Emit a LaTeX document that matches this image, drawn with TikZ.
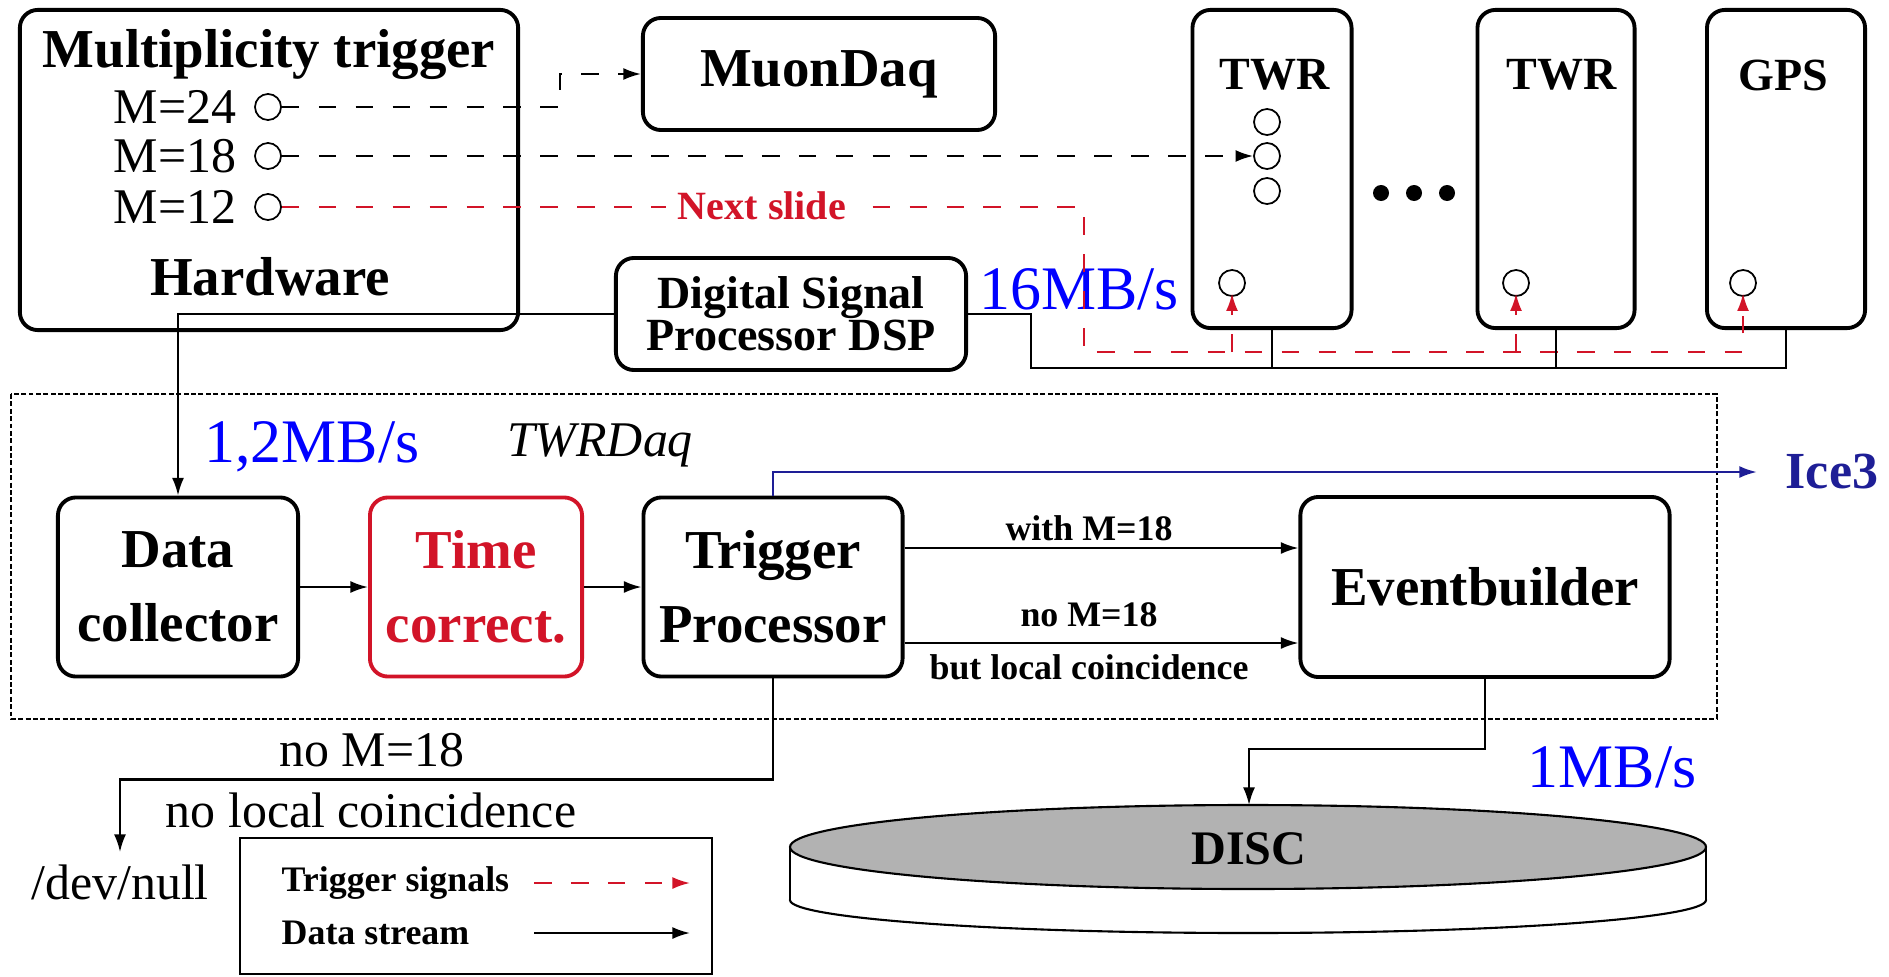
\documentclass[tikz,border=0pt]{standalone}
\usepackage{fontspec}
\setmainfont{Liberation Serif}
\usetikzlibrary{arrows.meta,calc}

\definecolor{trigred}{RGB}{210,20,40}
\definecolor{rateblue}{RGB}{0,0,255}
\definecolor{iceblue}{RGB}{30,30,150}
\newcommand{\setsize}[2]{\fontsize{#1pt}{#2pt}\selectfont}

\begin{document}
\begin{tikzpicture}[x=0.01cm,y=-0.01cm,
  box/.style={draw,line width=1.1pt,rounded corners=0.18cm,align=center,
    font=\bfseries\setsize{15.6}{21}},
  port/.style={draw,circle,minimum size=0.26cm,inner sep=0pt,line width=0.5pt},
  datalink/.style={line width=0.6pt,-{Latex[length=5pt,width=3.4pt]}},
  buslink/.style={line width=0.6pt},
  trig/.style={line width=0.6pt,dash pattern=on 5pt off 5.5pt,-{Latex[length=5pt,width=3.4pt]}},
  trigr/.style={trig,draw=trigred},
  icelink/.style={line width=0.7pt,draw=iceblue,-{Latex[length=5pt,width=3.4pt]}},
  rate/.style={text=rateblue,font=\setsize{17.6}{20}},
  plain/.style={font=\setsize{14.2}{16}},
  small/.style={font=\bfseries\setsize{10.2}{12}}]
\useasboundingbox (0,0) rectangle (1889,976);

% Hardware trigger box
\node[box,minimum width=4.98cm,minimum height=3.20cm] (hw) at (269,170) {};
\node[font=\bfseries\setsize{15.6}{18}] (hwtitle) at (269,55) {Multiplicity trigger};
\node[font=\bfseries\setsize{15.6}{18}] (hwname) at (270,277) {Hardware};
% Multiplicity outputs
\node[plain,anchor=east,inner sep=0pt] (l24) at (237,107) {M=24};
\node[plain,anchor=east,inner sep=0pt] (l18) at (237,156) {M=18};
\node[plain,anchor=east,inner sep=0pt] (l12) at (237,207) {M=12};
\node[port] (m24) at (268,107) {};
\node[port] (m18) at (268,156) {};
\node[port] (m12) at (268,207) {};

% MuonDaq
\node[box,minimum width=3.52cm,minimum height=1.12cm] (muon) at (819,74) {MuonDaq};

% DSP
\node[box,font=\bfseries\setsize{13.1}{12},minimum width=3.50cm,minimum height=1.12cm] (dsp) at (791,314) {Digital Signal\\Processor DSP};

% TWR and GPS boards
\node[box,minimum width=1.59cm,minimum height=3.18cm] (tw1) at (1272,169) {};
\node[box,minimum width=1.57cm,minimum height=3.18cm] (tw2) at (1556,169) {};
\node[box,minimum width=1.58cm,minimum height=3.18cm] (gps) at (1786,169) {};
\node[font=\bfseries\setsize{13.1}{15}] (tw1t) at (1275,75) {TWR};
\node[font=\bfseries\setsize{13.1}{15}] (tw2t) at (1562,75) {TWR};
\node[font=\bfseries\setsize{13.1}{15}] (gpst) at (1783,75) {GPS};
% Ports on the boards
\node[port] (tw1a) at (1267,122) {};
\node[port] (tw1b) at (1267,156) {};
\node[port] (tw1c) at (1267,191) {};
\node[port] (tw1p) at (1232,283) {};
\node[port] (tw2p) at (1516,283) {};
\node[port] (gpsp) at (1743,283) {};
% dots between boards
\fill (1381,193) circle (8) (1414,193) circle (8) (1447,193) circle (8);

% TWRDaq frame
\draw[dash pattern=on 1.4pt off 0.7pt,line width=0.5pt] (11,394) rectangle (1717,719);
\node[font=\itshape\setsize{14.2}{16}] (daqname) at (600,445) {TWRDaq};

% Processing chain
\node[box,minimum width=2.40cm,minimum height=1.79cm] (dc) at (178,587) {Data\\collector};
\node[box,draw=trigred,text=trigred,minimum width=2.12cm,minimum height=1.79cm] (tc) at (476,587) {Time\\correct.};
\node[box,minimum width=2.59cm,minimum height=1.79cm] (tp) at (773,587) {Trigger\\Processor};
\node[box,minimum width=3.69cm,minimum height=1.80cm] (eb) at (1485,587) {Eventbuilder};
\node[font=\bfseries\setsize{14.8}{16},text=iceblue,anchor=west,inner sep=0pt] (ice) at (1785,472) {Ice3};

% Rates
\node[rate] (r16) at (1079,289) {16MB/s};
\node[rate] (r12) at (312,447) {1,2MB/s};
\node[rate] (r1) at (1612,767) {1MB/s};

% Trigger signals
\draw[trig] (m24.east) -- ++(278,0) |- (muon.west);
\draw[trig] (m18.east) -- (tw1b.west);
\coordinate (tsplit) at (1084,352);
\draw[trigr] (m12.east) -| (tsplit) -| ([yshift=1pt]gpsp.south);
\draw[trigr] (tw1p.south |- tsplit) -- ([yshift=1pt]tw1p.south);
\draw[trigr] (tw2p.south |- tsplit) -- ([yshift=1pt]tw2p.south);
\node[font=\bfseries\setsize{11.4}{13},text=trigred,fill=white] (next) at (762,206) {Next slide};

% Data bus from the boards
\coordinate (bus) at (1031,368);
\draw[buslink] (dsp.east) -| (bus) -| (gps.south);
\draw[buslink] (tw1.south) -- (tw1.south |- bus);
\draw[buslink] (tw2.south) -- (tw2.south |- bus);

% Data stream
\draw[datalink] (dsp.west) -| (dc.north);
\draw[datalink] (dc) -- (tc);
\draw[datalink] (tc) -- (tp);
\draw[datalink] ($(tp.east)+(0,-39)$) coordinate (w1) -- (w1 -| eb.west);
\draw[datalink] ($(tp.east)+(0,56)$) coordinate (w2) -- (w2 -| eb.west);
\node[small] (lwith) at (1089,528) {with M=18};
\node[small] (lno) at (1089,615) {no M=18};
\node[small] (lbut) at (1089,667) {but local coincidence};
\draw[icelink] (tp.north) |- ([xshift=-0.28cm]ice.west);

% Rejected events
\node[plain] (null) at (120,882) {/dev/null};
\draw[datalink] (tp.south) -- ++(0,101) -| (null.north);
\node[plain] (rno) at (372,750) {no M=18};
\node[plain] (rnolc) at (371,810) {no local coincidence};

% DISC
\draw[line width=0.6pt,fill=white] (1248,900) ellipse (458 and 33);
\fill[white] (790,847) rectangle (1706,900);
\draw[line width=0.6pt] (790,847) -- (790,900) (1706,847) -- (1706,900);
\draw[line width=0.6pt,fill=black!30] (1248,847) ellipse (458 and 42);
\node[font=\bfseries\setsize{13.7}{15}] (disc) at (1249,849) {DISC};
\coordinate (disctop) at (1249,805);
\draw[datalink] (eb.south) -- ++(0,70) -| (disctop);

% Legend
\node[draw,line width=0.5pt,minimum width=4.71cm,minimum height=1.36cm] (legend) at (476,906) {};
\node[small,anchor=west,inner sep=0pt] (legtrig) at (281,883) {Trigger signals};
\node[small,anchor=west,inner sep=0pt] (legdata) at (281,933) {Data stream};
\coordinate (lt1) at (534,883);
\coordinate (lt2) at (690,883);
\coordinate (ld1) at (534,933);
\coordinate (ld2) at (690,933);
\draw[trigr] (lt1) -- (lt2);
\draw[datalink] (ld1) -- (ld2);
\end{tikzpicture}
\end{document}
